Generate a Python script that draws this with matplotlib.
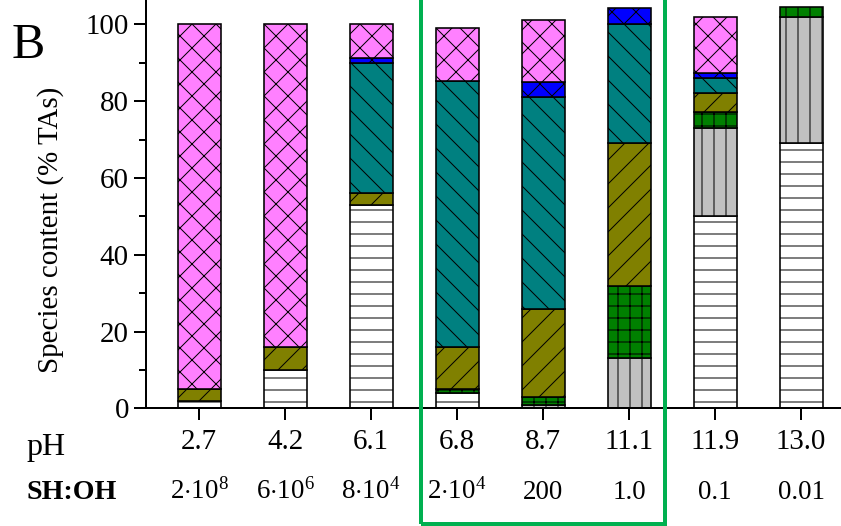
import numpy as np
import matplotlib
matplotlib.use('Agg')
import matplotlib.pyplot as plt
import matplotlib.transforms as mtransforms
from matplotlib.patches import Rectangle

plt.rcParams['font.family'] = ['Liberation Serif', 'DejaVu Serif']
plt.rcParams['mathtext.fontset'] = 'custom'
plt.rcParams['mathtext.rm'] = 'Liberation Serif'
plt.rcParams['mathtext.it'] = 'Liberation Serif:italic'
plt.rcParams['hatch.linewidth'] = 1.0

# pH values and SH:OH ratios (x categories)
ph_labels = ['2.7', '4.2', '6.1', '6.8', '8.7', '11.1', '11.9', '13.0']
ratio_labels = ['2$\\cdot$10$^{8}$', '6$\\cdot$10$^{6}$', '8$\\cdot$10$^{4}$', '2$\\cdot$10$^{4}$',
                '200', '1.0', '0.1', '0.01']

# species content (% TAs), stacked bottom -> top
white = [2.0, 10.0, 53.0, 4.0, 0.0, 0.0, 50.0, 69.0]
gray = [0.0, 0.0, 0.0, 0.0, 0.9, 13.0, 23.1, 33.0]
green = [0.0, 0.0, 0.0, 1.0, 2.1, 18.8, 4.0, 2.4]
olive = [3.0, 6.0, 3.0, 11.0, 22.9, 37.2, 4.9, 0.0]
teal = [0.0, 0.0, 34.0, 69.2, 55.1, 31.0, 3.9, 0.0]
blue = [0.0, 0.0, 1.2, 0.0, 4.1, 4.3, 1.3, 0.0]
pink = [95.0, 84.0, 8.8, 13.8, 16.0, 0.0, 14.6, 0.0]

series = [
    (white, 'white', '-'),
    (gray, '#C0C0C0', '|'),
    (green, '#008000', '+'),
    (olive, '#808000', '/'),
    (teal, '#008080', '\\'),
    (blue, '#0000FF', 'x'),
    (pink, '#FF80FF', 'x'),
]

W, H = 841, 526
fig = plt.figure(figsize=(W / 72, H / 72), dpi=72)
ax = fig.add_axes([146 / W, 1 - 408.3 / H, 1 - 146 / W, 408.3 / H])

x = np.arange(len(ph_labels))
bottom = np.zeros(len(x))
for vals, col, hat in series:
    vals = np.asarray(vals)
    m = vals > 0
    ax.bar(x[m], vals[m], 0.5, bottom=bottom[m], color=col, hatch=hat,
           edgecolor='black', linewidth=1.6, zorder=2)
    bottom += vals

ax.set_xlim((146 - 199) / 86, (841 - 199) / 86)
ax.set_ylim(0, 408.3 / 3.84)

for s in ['top', 'right']:
    ax.spines[s].set_visible(False)
ax.spines['left'].set_linewidth(2)
ax.spines['bottom'].set_linewidth(2)

ax.set_yticks(np.arange(0, 101, 20))
ax.set_yticks(np.arange(10, 100, 20), minor=True)
ax.set_xticks(x)
ax.set_xticklabels(ph_labels)
ax.tick_params(axis='both', which='major', length=12, width=2, labelsize=29, direction='out')
ax.tick_params(axis='y', which='minor', length=7, width=2)
ax.tick_params(axis='x', pad=9)
ax.tick_params(axis='y', pad=5)

ax.set_ylabel('Species content (% TAs)', fontsize=29)
ax.yaxis.set_label_coords((64 - 146) / (W - 146), (408.3 - 230) / 408.3)

trans = mtransforms.blended_transform_factory(ax.transData, fig.transFigure)
for xi, lab in zip(x, ratio_labels):
    ax.text(xi, 1 - 499 / H, lab, transform=trans, ha='center', va='baseline', fontsize=27)

fig.text(26 / W, 1 - 455 / H, 'pH', ha='left', va='baseline', fontsize=32)
fig.text(26 / W, 1 - 499 / H, 'SH:OH', ha='left', va='baseline', fontsize=28, fontweight='bold')
fig.text(12 / W, 1 - 58 / H, 'B', ha='left', va='baseline', fontsize=50)

fig.patches.append(Rectangle((421 / W, 2 / H), 244 / W, 1.05, transform=fig.transFigure,
                             fill=False, edgecolor='#00B050', linewidth=4, figure=fig))

fig.savefig('out.png', dpi=72)
